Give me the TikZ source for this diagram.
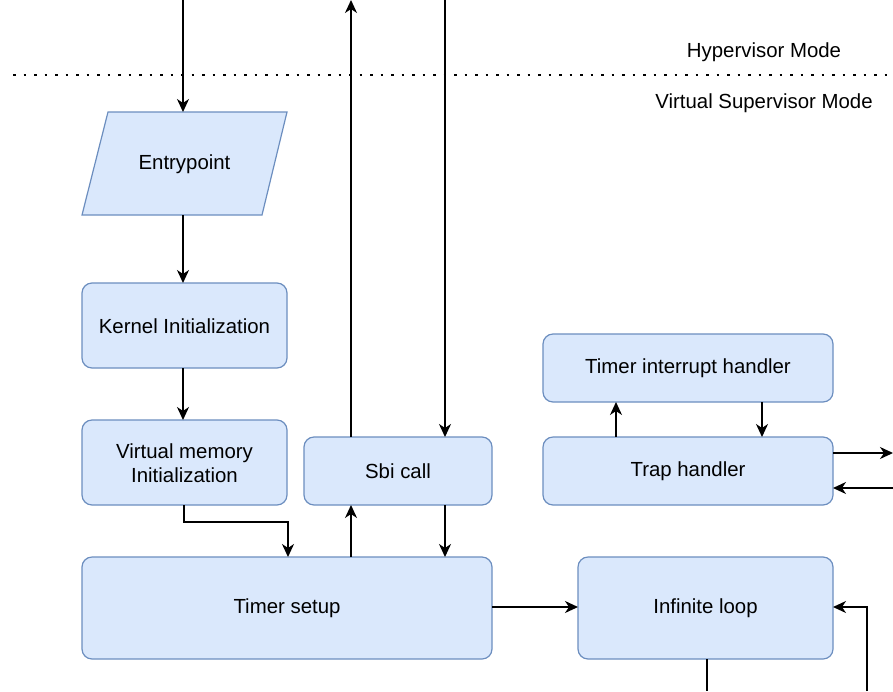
\documentclass[tikz,border=0pt]{standalone}
\usepackage{fontspec}
\setmainfont{Liberation Sans}
\usetikzlibrary{arrows.meta,shapes.geometric,calc}
\begin{document}
\begin{tikzpicture}[x=1pt,y=-1pt,
  box/.style={draw=boxline,fill=boxfill,line width=1.2pt,rounded corners=10pt},
  lbl/.style={font=\fontsize{20.4}{24}\selectfont,align=center,text=black},
  flow/.style={line width=1.4pt,-{Stealth[length=13pt,width=12pt,inset=4pt]}},
  plain/.style={line width=1.4pt}]
\definecolor{boxline}{HTML}{6C8EBF}
\definecolor{boxfill}{HTML}{DAE8FC}
\useasboundingbox (0,0) rectangle (893,691);

% mode separator
\draw[line width=2.8pt,dash pattern=on 2.8pt off 7.7pt] (13,75) -- (893,75);
\node[lbl] (hyp) at (764,52) {Hypervisor Mode};
\node[lbl] (vsm) at (764,103) {Virtual Supervisor Mode};

% entry point (parallelogram)
\draw[draw=boxline,fill=boxfill,line width=1.2pt] (108,112) -- (287,112) -- (262,215) -- (82,215) -- cycle;
\node[lbl] (entry) at (184.5,164) {Entrypoint};
\coordinate (entryT) at (183,112);
\coordinate (entryB) at (183,215);

% boxes
\draw[box] (82,283) rectangle (287,368);
\node[lbl] (kinit) at (184.5,326) {Kernel Initialization};
\draw[box] (82,420) rectangle (287,505);
\node[lbl] (vminit) at (184.5,463) {Virtual memory\\Initialization};
\draw[box] (304,437) rectangle (492,505);
\node[lbl] (sbi) at (398,471.5) {Sbi call};
\draw[box] (543,334) rectangle (833,402);
\node[lbl] (tih) at (688,368.5) {Timer interrupt handler};
\draw[box] (543,437) rectangle (833,505);
\node[lbl] (trap) at (688,471.5) {Trap handler};
\draw[box] (82,557) rectangle (492,659);
\node[lbl] (tsetup) at (287,608.5) {Timer setup};
\draw[box] (578,557) rectangle (833,659);
\node[lbl] (loop) at (705.5,608.5) {Infinite loop};

% anchor points on the box edges
\coordinate (kinitT) at (183,283);
\coordinate (kinitB) at (183,368);
\coordinate (vminitT) at (183,420);
\coordinate (vminitB) at (184,505);
\coordinate (sbiTL) at (351,437);
\coordinate (sbiTR) at (445,437);
\coordinate (sbiBL) at (351,505);
\coordinate (sbiBR) at (445,505);
\coordinate (tsetupT1) at (288,557);
\coordinate (tsetupT2) at (351,557);
\coordinate (tsetupT3) at (445,557);
\coordinate (tsetupR) at (492,607);
\coordinate (loopL) at (578,607);
\coordinate (loopR) at (833,607);
\coordinate (loopB) at (707,659);
\coordinate (tihB1) at (616,402);
\coordinate (tihB2) at (762,402);
\coordinate (trapT1) at (616,437);
\coordinate (trapT2) at (762,437);
\coordinate (trapR1) at (833,453);
\coordinate (trapR2) at (833,488);

% free ends
\coordinate (inTop) at (183,0);
\coordinate (outTop) at (351,0);
\coordinate (sbiIn) at (445,0);
\coordinate (outRight) at (893,453);
\coordinate (inRight) at (893,488);
\coordinate (loopOut) at (707,691);
\coordinate (loopIn) at (867,691);

% connectors
\draw[flow] (inTop) -- (entryT);
\draw[flow] (entryB) -- (kinitT);
\draw[flow] (kinitB) -- (vminitT);
\draw[flow] (vminitB) |- (236,522) -| (tsetupT1);
\draw[flow] (tsetupT2) -- (sbiBL);
\draw[flow] (sbiTL) -- (outTop);
\draw[flow] (sbiIn) -- (sbiTR);
\draw[flow] (sbiBR) -- (tsetupT3);
\draw[flow] (tsetupR) -- (loopL);
\draw[flow] (trapT1) -- (tihB1);
\draw[flow] (tihB2) -- (trapT2);
\draw[flow] (trapR1) -- (outRight);
\draw[flow] (inRight) -- (trapR2);
\draw[plain] (loopB) -- (loopOut);
\draw[flow] (loopIn) |- (loopR);
\end{tikzpicture}
\end{document}
